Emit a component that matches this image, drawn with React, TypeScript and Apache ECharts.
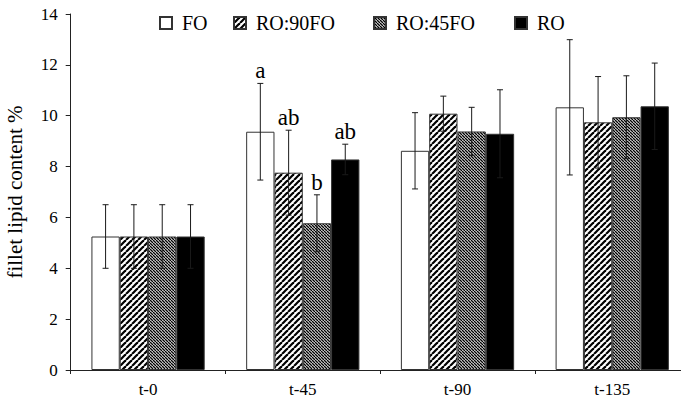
import React, { useEffect, useRef } from "react";
import * as echarts from "echarts";

const categories = ["t-0", "t-45", "t-90", "t-135"];
const seriesNames = ["FO", "RO:90FO", "RO:45FO", "RO"];

const valuesFO = [5.25, 9.37, 8.62, 10.33];
const valuesRO90 = [5.25, 7.76, 10.08, 9.74];
const valuesRO45 = [5.25, 5.77, 9.38, 9.94];
const valuesRO = [5.25, 8.28, 9.29, 10.37];

const errFO = [1.25, 1.9, 1.5, 2.66];
const errRO90 = [1.25, 1.67, 0.69, 1.8];
const errRO45 = [1.25, 1.12, 0.95, 1.63];
const errRO = [1.25, 0.6, 1.73, 1.7];

const lettersFO = ["", "a", "", ""];
const lettersRO90 = ["", "ab", "", ""];
const lettersRO45 = ["", "b", "", ""];
const lettersRO = ["", "ab", "", ""];

const yTicks = { min: 0, max: 14, interval: 2 };

const FONT = "'Liberation Serif', 'Times New Roman', serif";
const BAR_RATIO = 0.183;

function makeTile(size: number, draw: (ctx: CanvasRenderingContext2D) => void) {
  const c = document.createElement("canvas");
  c.width = size;
  c.height = size;
  const ctx = c.getContext("2d")!;
  ctx.fillStyle = "#fff";
  ctx.fillRect(0, 0, size, size);
  draw(ctx);
  return { image: c, repeat: "repeat", imageWidth: size, imageHeight: size } as any;
}

export default function App() {
  const ref = useRef<HTMLDivElement>(null);
  useEffect(() => {
    if (!ref.current) return;
    const chart = echarts.init(ref.current, null, { renderer: "svg" });

    const wide = makeTile(6, (ctx) => {
      ctx.strokeStyle = "#000";
      ctx.lineWidth = 2.2;
      for (const k of [-6, 0, 6]) {
        ctx.beginPath();
        ctx.moveTo(k, 6);
        ctx.lineTo(k + 6, 0);
        ctx.stroke();
      }
    });
    const fine = makeTile(3, (ctx) => {
      ctx.strokeStyle = "#000";
      ctx.lineWidth = 1.35;
      for (const k of [-3, 0, 3]) {
        ctx.beginPath();
        ctx.moveTo(k, 0);
        ctx.lineTo(k + 3, 3);
        ctx.stroke();
      }
    });

    const allValues = [valuesFO, valuesRO90, valuesRO45, valuesRO];
    const allErr = [errFO, errRO90, errRO45, errRO];
    const allLetters = [lettersFO, lettersRO90, lettersRO45, lettersRO];
    const fills: any[] = ["#fff", wide, fine, "#000"];

    const barSeries = seriesNames.map((name, i) => ({
      name,
      type: "bar",
      data: allValues[i],
      barWidth: (BAR_RATIO * 100).toFixed(1) + "%",
      barGap: "0%",
      itemStyle: { color: fills[i], borderColor: "#333", borderWidth: 1 },
      z: 2,
    }));

    const errData: any[] = [];
    allValues.forEach((vals, s) => {
      vals.forEach((v, c) => {
        errData.push([c, v, allErr[s][c], s]);
      });
    });

    const errSeries = {
      type: "custom",
      z: 5,
      silent: true,
      data: errData,
      encode: { x: 0, y: 1 },
      renderItem: (params: any, api: any) => {
        const c = api.value(0);
        const v = api.value(1);
        const e = api.value(2);
        const s = api.value(3);
        const band = api.size([1, 0])[0];
        const bw = band * BAR_RATIO;
        const center = api.coord([c, v]);
        const x = center[0] + (s - 1.5) * bw;
        const yt = api.coord([c, v + e])[1];
        const yb = api.coord([c, v - e])[1];
        const cap = 3;
        const st = { stroke: "#1a1a1a", lineWidth: 1 };
        const children: any[] = [
          { type: "line", shape: { x1: x, y1: yt, x2: x, y2: yb }, style: st },
          { type: "line", shape: { x1: x - cap, y1: yt, x2: x + cap, y2: yt }, style: st },
          { type: "line", shape: { x1: x - cap, y1: yb, x2: x + cap, y2: yb }, style: st },
        ];
        const letter = allLetters[s][c];
        if (letter) {
          children.push({
            type: "text",
            style: {
              text: letter,
              x,
              y: yt - 1,
              align: "center",
              verticalAlign: "bottom",
              fontFamily: FONT,
              fontSize: 23,
              fill: "#000",
            },
          });
        }
        return { type: "group", children };
      },
    };

    const legendLefts = [154, 228, 368, 509];
    const legends = seriesNames.map((name, i) => ({
      data: [name],
      left: legendLefts[i],
      top: 8,
      icon: "rect",
      itemWidth: 12,
      itemHeight: 12,
      selectedMode: false,
      textStyle: {
        fontFamily: FONT,
        fontSize: 20,
        color: "#000",
        padding: [0, 0, 0, 5],
      },
    }));

    chart.setOption({
      animation: false,
      backgroundColor: "#fff",
      legend: legends,
      grid: {
        left: 70.7,
        right: -8.6,
        top: 14,
        bottom: 31,
        containLabel: false,
        outerBoundsMode: "none",
      },
      xAxis: {
        type: "category",
        data: categories,
        axisLine: { lineStyle: { color: "#222", width: 1 } },
        axisTick: { show: true, length: 4, lineStyle: { color: "#222" } },
        axisLabel: { fontFamily: FONT, fontSize: 17, color: "#000", margin: 11 },
      },
      yAxis: {
        type: "value",
        min: yTicks.min,
        max: yTicks.max,
        interval: yTicks.interval,
        name: "fillet lipid content %",
        nameLocation: "middle",
        nameGap: 45,
        nameTextStyle: { fontFamily: FONT, fontSize: 21, color: "#000" },
        axisLine: { show: true, lineStyle: { color: "#222", width: 1 } },
        axisTick: { show: true, length: 5, lineStyle: { color: "#222" } },
        axisLabel: { fontFamily: FONT, fontSize: 17, color: "#000", margin: 13 },
        splitLine: { show: false },
      },
      series: [...barSeries, errSeries],
    });

    return () => chart.dispose();
  }, []);

  return (
    <div
      ref={ref}
      style={{ position: "fixed", left: 0, top: 0, width: 681, height: 401, background: "#fff" }}
    />
  );
}
